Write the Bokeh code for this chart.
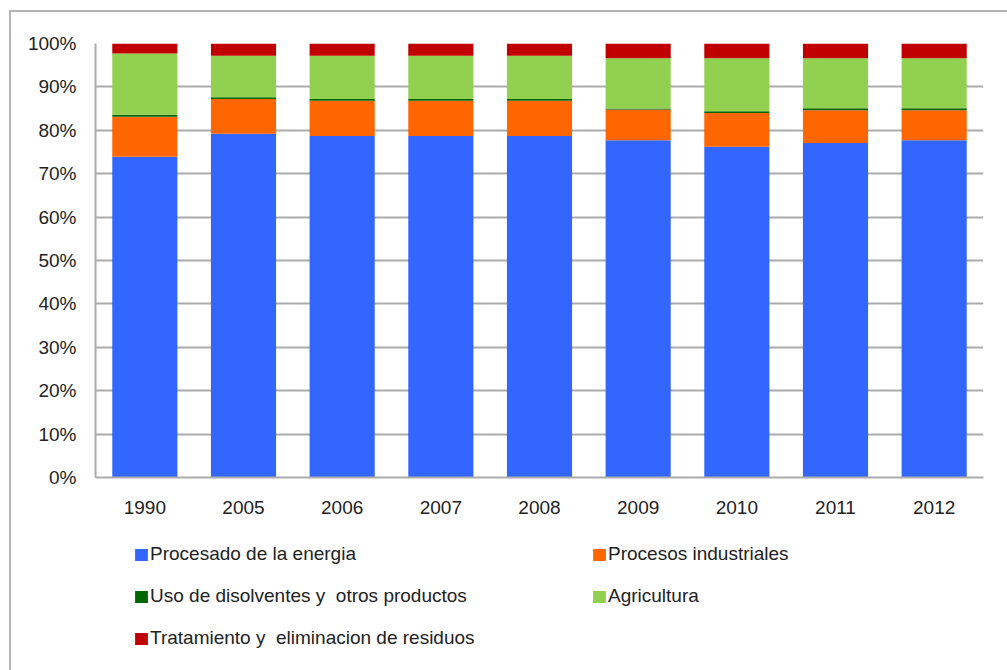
from bokeh.plotting import figure
from bokeh.layouts import column
from bokeh.models import (FactorRange, Range1d, FixedTicker, PrintfTickFormatter,
                          Legend, LegendItem)
from bokeh.embed import file_html
from bokeh.resources import INLINE

# Emissions share by sector (%), per year
years = ["1990", "2005", "2006", "2007", "2008", "2009", "2010", "2011", "2012"]
energia = [73.9, 79.2, 78.7, 78.7, 78.7, 77.7, 76.2, 77.1, 77.7]
industriales = [9.2, 8.0, 8.1, 8.1, 8.1, 7.1, 7.8, 7.5, 6.9]
disolventes = [0.5, 0.4, 0.4, 0.4, 0.4, 0.2, 0.4, 0.5, 0.5]
agricultura = [14.1, 9.6, 10.0, 10.0, 10.0, 11.6, 12.2, 11.5, 11.5]
residuos = [2.3, 2.8, 2.8, 2.8, 2.8, 3.4, 3.4, 3.4, 3.4]

series = ["energia", "industriales", "disolventes", "agricultura", "residuos"]
labels = ["Procesado de la energia", "Procesos industriales",
          "Uso de disolventes y  otros productos", "Agricultura",
          "Tratamiento y  eliminacion de residuos"]
colors = ["#3366FF", "#FF6600", "#006600", "#92D050", "#C00000"]

source = dict(years=years, energia=energia, industriales=industriales,
              disolventes=disolventes, agricultura=agricultura, residuos=residuos)

FONT = "Liberation Sans"
GRID = "#ababab"
TEXT = "#222222"

# --- stacked bar chart ---
p = figure(x_range=FactorRange(factors=years, range_padding=0),
           y_range=Range1d(0, 100),
           width=996, height=518,
           output_backend="svg", toolbar_location=None,
           min_border_left=84, min_border_right=24,
           min_border_top=31, min_border_bottom=53)

p.vbar_stack(series, x="years", width=0.66, color=colors,
             line_color=None, source=source)

p.outline_line_color = None
p.background_fill_color = "white"
p.border_fill_color = "white"

p.xgrid.grid_line_color = None
p.ygrid.grid_line_color = GRID
p.ygrid.grid_line_width = 2
p.ygrid.level = "underlay"

p.yaxis.ticker = FixedTicker(ticks=[0, 10, 20, 30, 40, 50, 60, 70, 80, 90, 100])
p.yaxis.formatter = PrintfTickFormatter(format="%d%%")
for ax in (p.xaxis[0], p.yaxis[0]):
    ax.axis_line_color = GRID
    ax.axis_line_width = 2
    ax.major_tick_line_color = None
    ax.minor_tick_line_color = None
    ax.major_label_text_font = FONT
    ax.major_label_text_font_size = "19px"
    ax.major_label_text_color = TEXT
p.yaxis.major_label_standoff = 13
p.xaxis.major_label_standoff = 17

# --- legend panel underneath (its frame is aligned with the chart's frame) ---
q = figure(width=996, height=140, output_backend="svg", toolbar_location=None,
           x_range=FactorRange(factors=years, range_padding=0),
           y_range=Range1d(1000, 1001),
           x_axis_location=None, y_axis_location=None,
           min_border_left=0, min_border_right=0,
           min_border_top=0, min_border_bottom=0)
q.outline_line_color = None
q.grid.visible = False
q.background_fill_color = "white"
q.border_fill_color = "white"

# hidden copies of the series, used only for the legend swatches
swatches = q.vbar_stack(series, x="years", width=0.66, color=colors,
                        line_color=None, source=source, visible=False)

leg_style = dict(border_line_color=None, background_fill_alpha=0,
                 padding=0, margin=0, glyph_width=16, glyph_height=15,
                 label_standoff=1, label_height=20, spacing=20,
                 label_text_font=FONT, label_text_font_size="19px",
                 label_text_color=TEXT)

left_items = [LegendItem(label=labels[i], renderers=[swatches[i]]) for i in (0, 2, 4)]
right_items = [LegendItem(label=labels[i], renderers=[swatches[i]]) for i in (1, 3)]
q.add_layout(Legend(items=left_items, location=(38, 21), **leg_style), "center")
q.add_layout(Legend(items=right_items, location=(496, 63), **leg_style), "center")

page = column(p, q, spacing=0)
page.styles = {"margin-left": "9px", "margin-top": "10px",
               "border-left": "2px solid #b4b4b4", "border-top": "2px solid #b4b4b4"}

open("out.html", "w").write(file_html(page, INLINE))
